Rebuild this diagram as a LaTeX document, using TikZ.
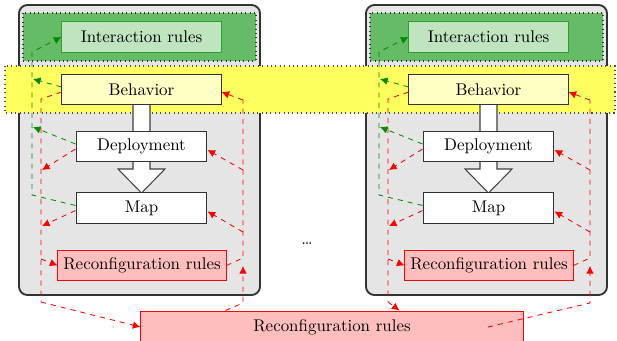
\documentclass[tikz,border=0pt]{standalone}
\usetikzlibrary{arrows.meta,calc}
\definecolor{grreg}{RGB}{102,187,102}
\definecolor{grnode}{RGB}{192,228,192}
\definecolor{grline}{RGB}{40,165,40}
\definecolor{grarrow}{RGB}{0,140,0}
\definecolor{yband}{RGB}{255,255,95}
\definecolor{ynode}{RGB}{255,255,195}
\definecolor{rnode}{RGB}{255,190,190}
\definecolor{modfill}{RGB}{229,229,229}
\tikzset{
  modbox/.style={draw=black!80, line width=1.1pt, fill=modfill, rounded corners=5pt},
  greg/.style={draw=black!80, dotted, line width=0.6pt, fill=grreg},
  band/.style={draw=black!70, dotted, line width=0.6pt, fill=yband},
  bigarrow/.style={draw=black!75, line width=0.6pt, fill=white},
  box/.style={draw=black!80, line width=0.6pt, minimum height=18.3pt, inner sep=0pt},
  irbox/.style={box, draw=grline, fill=grnode, minimum width=94pt},
  bbox/.style={box, fill=ynode, minimum width=94pt},
  wbox/.style={box, fill=white, minimum width=77.4pt},
  rbox/.style={box, draw=red, fill=rnode, minimum width=99.3pt},
  gline/.style={draw=grarrow, dashed, line width=0.5pt},
  garr/.style={gline, -{Latex[length=4.5pt,width=4.5pt]}},
  rline/.style={draw=red, dashed, line width=0.5pt},
  rarr/.style={rline, -{Latex[length=4.5pt,width=4.5pt]}},
}
\begin{document}
\begin{tikzpicture}[x=0.591pt,y=-0.591pt]
\useasboundingbox (0,0) rectangle (617,341);
\foreach \o in {0,347}{
  \draw[modbox] (\o+19,5) rectangle (\o+260,295);
  \draw[greg] (\o+23,13) rectangle (\o+256,61);
}
\draw[band] (5,66) rectangle (615,113);
\foreach \o/\s in {0/1,347/2}{
  \draw[bigarrow] (\o+133,105) -- (\o+133,169) -- (\o+118,169) -- (\o+141.5,193)
     -- (\o+165,169) -- (\o+150,169) -- (\o+150,105);
  \node[irbox] (I\s) at (\o+141.5,37) {Interaction rules};
  \node[bbox] (B\s) at (\o+141.5,89.5) {Behavior};
  \node[wbox] (D\s) at (\o+141.5,146.5) {Deployment};
  \node[wbox] (M\s) at (\o+141.5,208) {Map};
  \node[rbox] (R\s) at (\o+142,265.5) {Reconfiguration rules};
  % coordinates of the buses
  \coordinate (gB\s) at (\o+33,79);
  \coordinate (gD\s) at (\o+33,127);
  \coordinate (gM\s) at (\o+32,195);
  \coordinate (gT\s) at (\o+32,52);
  \coordinate (rBL\s) at (\o+41,99);
  \coordinate (rRL\s) at (\o+41,259);
  \coordinate (rDL\s) at (\o+42,170);
  \coordinate (rML\s) at (\o+42,226);
  \coordinate (rBot\s) at (\o+41,302);
  \coordinate (rRR\s) at (\o+243,258);
  \coordinate (rTop\s) at (\o+243,100);
  \coordinate (rDR\s) at (\o+243,170);
  \coordinate (rMR\s) at (\o+243,232);
  \coordinate (rUp\s) at (\o+243,266);
  \coordinate (rBR\s) at (\o+243,303);
  % green connectors
  \draw[garr] ([yshift=1.5pt]B\s.west) -- (gB\s);
  \draw[garr] ([yshift=1.5pt]D\s.west) -- (gD\s);
  \draw[garr] ([yshift=1.5pt]M\s.west) -- (gM\s) -- (gT\s) -- (I\s.west);
  % red left bus
  \draw[rline] ([yshift=-1.5pt]B\s.west) -- (rBL\s) -- (rRL\s) -- (rBot\s);
  \draw[rarr] (rRL\s) -- (R\s.west);
  \draw[rarr] ([yshift=-1.5pt]D\s.west) -- (rDL\s);
  \draw[rarr] ([yshift=-1.5pt]M\s.west) -- (rML\s);
  % red right bus
  \draw[rline] (R\s.east) -- (rRR\s) -- (rTop\s);
  \draw[rarr] (rTop\s) -- ([yshift=-1.5pt]B\s.east);
  \draw[rarr] (rDR\s) -- ([yshift=-2pt]D\s.east);
  \draw[rarr] (rMR\s) -- ([yshift=-2pt]M\s.east);
}
\node[rbox, minimum width=225.8pt, minimum height=18.9pt] (G) at (332,327) {Reconfiguration rules};
\node (dots) at (307,244) {\ldots};
\draw[rarr] (rBot1) -- (G.west);
\draw[rarr] ($(G.north west)+(85,0)$) -- (rBR1) -- (rUp1);
\draw[rarr] (rBot2) -- ($(G.north west)+(259,0)$);
\draw[rarr] ($(G.center)+(156,0)$) -- (rBR2) -- (rUp2);
\end{tikzpicture}
\end{document}
